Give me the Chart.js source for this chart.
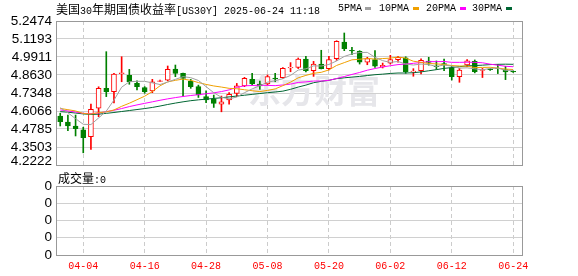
<!DOCTYPE html>
<html><head><meta charset="utf-8">
<script src="https://cdn.jsdelivr.net/npm/chart.js@4.4.1/dist/chart.umd.min.js"></script>
<style>
html,body{margin:0;padding:0;background:#fff;width:578px;height:276px;overflow:hidden;position:relative}
.t{position:absolute;white-space:nowrap;line-height:12px;height:12px;color:#000}
.c{font-family:'Noto Sans CJK SC';font-size:12px}
.a{font-family:'Liberation Mono';font-size:10px}
#main{position:absolute;left:0;top:0}
#vol{position:absolute;left:0;top:170px}
.sw{position:absolute;width:6px;height:3px;top:7px}
</style></head><body>
<canvas id="main" width="578" height="195"></canvas>
<canvas id="vol" width="578" height="106"></canvas>
<div class="t" style="left:56px;top:3px"><span class="c">美国</span><span class="a">30</span><span class="c">年期国债收益率</span><span class="a">[US30Y] 2025-06-24 11:18</span></div>
<div class="t a" style="left:338px;top:3px">5PMA</div><div class="sw" style="left:365px;background:#a0a0a0"></div>
<div class="t a" style="left:379px;top:3px">10PMA</div><div class="sw" style="left:413px;background:#f0a000"></div>
<div class="t a" style="left:426px;top:3px">20PMA</div><div class="sw" style="left:460px;background:#ff00ff"></div>
<div class="t a" style="left:472px;top:3px">30PMA</div><div class="sw" style="left:506px;background:#006633"></div>
<div class="t" style="left:58px;top:172px"><span class="c">成交量</span><span class="a">:0</span></div>
<script>
const dates = ['04-01','04-02','04-03','04-04','04-07','04-08','04-09','04-10','04-11','04-14','04-15','04-16','04-17','04-18','04-21','04-22','04-23','04-24','04-25','04-28','04-29','04-30','05-01','05-02','05-05','05-06','05-07','05-08','05-09','05-12','05-13','05-14','05-15','05-16','05-19','05-20','05-21','05-22','05-23','05-27','05-28','05-29','05-30','06-02','06-03','06-04','06-05','06-06','06-09','06-10','06-11','06-12','06-13','06-16','06-17','06-18','06-19','06-20','06-23','06-24'];
const xTickLabels = ['04-04','04-16','04-28','05-08','05-20','06-02','06-12','06-24'];
const yTickValues = [4.2222,4.3503,4.4785,4.6066,4.7348,4.8630,4.9911,5.1193,5.2474];
const yTickLabels = ['4.2222','4.3503','4.4785','4.6066','4.7348','4.8630','4.9911','5.1193','5.2474'];
const volTickLabels = ['0','0','0','0','0'];

const opens  = [4.571,4.527,4.500,4.472,4.424,4.626,4.768,4.744,4.873,4.861,4.804,4.773,4.749,4.818,4.827,4.905,4.875,4.820,4.780,4.709,4.691,4.656,4.685,4.732,4.786,4.832,4.799,4.799,4.841,4.844,4.913,4.917,4.977,4.893,4.941,4.908,4.979,5.098,5.038,5.031,4.955,4.972,4.920,4.948,4.972,4.986,4.886,4.893,4.962,4.927,4.944,4.914,4.851,4.934,4.960,4.896,4.905,4.913,4.901,4.889];
const highs  = [4.591,4.578,4.578,4.491,4.656,4.779,5.029,4.875,4.993,4.903,4.822,4.780,4.832,4.826,4.927,4.934,4.877,4.832,4.791,4.751,4.720,4.713,4.737,4.803,4.846,4.875,4.820,4.863,4.875,4.915,4.951,4.984,4.996,4.960,5.039,4.996,5.107,5.162,5.060,5.036,4.989,5.036,4.948,5.003,4.996,4.993,4.908,4.978,4.989,4.963,4.976,4.925,4.910,4.973,4.970,4.910,4.910,4.939,4.925,4.892];
const lows   = [4.500,4.467,4.429,4.309,4.334,4.566,4.709,4.665,4.815,4.797,4.757,4.733,4.737,4.815,4.822,4.851,4.713,4.768,4.703,4.666,4.632,4.601,4.656,4.709,4.780,4.791,4.761,4.791,4.815,4.839,4.886,4.909,4.884,4.853,4.906,4.900,4.967,5.036,5.007,4.941,4.936,4.917,4.913,4.941,4.955,4.875,4.854,4.871,4.933,4.903,4.894,4.827,4.811,4.923,4.878,4.845,4.895,4.873,4.830,4.881];
const closes = [4.531,4.500,4.481,4.417,4.619,4.768,4.744,4.870,4.879,4.815,4.780,4.744,4.815,4.822,4.903,4.875,4.839,4.780,4.721,4.685,4.661,4.672,4.725,4.786,4.839,4.799,4.786,4.851,4.837,4.910,4.917,4.977,4.893,4.941,4.908,4.972,5.103,5.050,5.034,4.955,4.979,4.925,4.932,4.972,4.989,4.886,4.891,4.967,4.953,4.922,4.938,4.851,4.898,4.963,4.886,4.901,4.901,4.909,4.884,4.884];
const volumes = [0,0,0,0,0,0,0,0,0,0,0,0,0,0,0,0,0,0,0,0,0,0,0,0,0,0,0,0,0,0,0,0,0,0,0,0,0,0,0,0,0,0,0,0,0,0,0,0,0,0,0,0,0,0,0,0,0,0,0,0];

const ma5  = [4.630,4.594,4.552,4.512,4.510,4.557,4.606,4.684,4.776,4.815,4.818,4.818,4.807,4.795,4.813,4.832,4.851,4.844,4.824,4.780,4.737,4.704,4.693,4.706,4.737,4.764,4.787,4.812,4.822,4.837,4.860,4.898,4.907,4.928,4.927,4.938,4.963,4.995,5.013,5.023,5.024,4.989,4.965,4.953,4.959,4.941,4.934,4.941,4.937,4.924,4.934,4.926,4.912,4.914,4.907,4.900,4.910,4.912,4.896,4.896];
const ma10 = [4.625,4.616,4.607,4.589,4.585,4.595,4.600,4.614,4.640,4.662,4.687,4.712,4.745,4.786,4.814,4.825,4.834,4.825,4.809,4.796,4.785,4.777,4.768,4.765,4.758,4.751,4.745,4.753,4.764,4.787,4.812,4.843,4.860,4.875,4.882,4.899,4.931,4.951,4.971,4.975,4.981,4.976,4.980,4.983,4.991,4.983,4.961,4.953,4.945,4.942,4.938,4.930,4.927,4.926,4.916,4.917,4.918,4.912,4.905,4.902];
const ma20 = [4.614,4.607,4.599,4.590,4.588,4.592,4.602,4.612,4.624,4.638,4.650,4.661,4.672,4.683,4.693,4.702,4.710,4.717,4.723,4.729,4.736,4.745,4.757,4.775,4.786,4.788,4.790,4.789,4.787,4.792,4.798,4.810,4.814,4.820,4.820,4.825,4.838,4.852,4.867,4.881,4.897,4.909,4.920,4.929,4.937,4.941,4.946,4.952,4.958,4.958,4.959,4.953,4.953,4.954,4.953,4.950,4.940,4.933,4.925,4.922];
const ma30 = [4.602,4.598,4.592,4.586,4.582,4.584,4.590,4.596,4.603,4.610,4.617,4.624,4.632,4.642,4.653,4.663,4.672,4.680,4.686,4.691,4.696,4.701,4.707,4.713,4.719,4.725,4.731,4.737,4.742,4.748,4.761,4.777,4.791,4.808,4.818,4.825,4.837,4.843,4.848,4.853,4.859,4.865,4.869,4.874,4.877,4.877,4.879,4.885,4.893,4.901,4.910,4.916,4.922,4.928,4.930,4.933,4.937,4.939,4.940,4.939];

const RED = '#ff0000', GREEN = '#008000';
const up = closes.map((c,i) => c >= opens[i]);
const tickIdx = xTickLabels.map(l => dates.indexOf(l));
const XMIN = -0.55, XMAX = 60.15;
const yFont = "'Liberation Sans', Arial, sans-serif";

const borderPlugin = {
  id: 'frame',
  afterDraw(chart) {
    const {ctx, chartArea: a} = chart;
    ctx.save();
    ctx.strokeStyle = '#999';
    ctx.lineWidth = 1;
    ctx.strokeRect(Math.round(a.left) + 0.5, Math.round(a.top) + 0.5, Math.round(a.right - a.left), Math.round(a.bottom - a.top));
    ctx.restore();
  }
};
const watermark = {
  id: 'wm',
  beforeDatasetsDraw(chart) {
    const ctx = chart.ctx;
    ctx.save();
    ctx.fillStyle = '#e6e6ea';
    ctx.font = "bold 33px 'Noto Sans CJK SC'";
    ctx.textBaseline = 'top';
    ctx.fillText('东方财富', 248, 74);
    ctx.restore();
  }
};

const xScaleBase = (showLabels) => ({
  type: 'linear', min: XMIN, max: XMAX, offset: false,
  afterBuildTicks: s => { s.ticks = tickIdx.map(v => ({value: v})); },
  ticks: {
    display: showLabels, autoSkip: false, maxRotation: 0, padding: 5,
    color: RED, font: {family: "'Liberation Mono'", size: 10},
    callback: v => dates[v]
  },
  grid: {color: '#cccccc', drawTicks: false, lineWidth: 1, offset: false},
  border: {display: false, dash: [4, 3]},
  afterFit: s => { s.height = showLabels ? 20 : 0; }
});

new Chart(document.getElementById('main'), {
  type: 'bar',
  data: {
    datasets: [
      {type: 'line', data: ma5.map((v,i) => ({x: i, y: v})), borderColor: '#a0a0a0', borderWidth: 1, pointRadius: 0, order: 0},
      {type: 'line', data: ma10.map((v,i) => ({x: i, y: v})), borderColor: '#f0a000', borderWidth: 1, pointRadius: 0, order: 0},
      {type: 'line', data: ma20.map((v,i) => ({x: i, y: v})), borderColor: '#ff00ff', borderWidth: 1, pointRadius: 0, order: 0},
      {type: 'line', data: ma30.map((v,i) => ({x: i, y: v})), borderColor: '#006633', borderWidth: 1, pointRadius: 0, order: 0},
      {data: opens.map((o,i) => ({x: i, y: [o, closes[i]]})),
       backgroundColor: up.map(u => u ? '#ffffff' : GREEN), borderColor: up.map(u => u ? RED : GREEN),
       borderWidth: 1, borderSkipped: false, barThickness: 5, grouped: false, order: 1},
      {data: lows.map((l,i) => ({x: i, y: [l, highs[i]]})),
       backgroundColor: up.map(u => u ? RED : GREEN), borderWidth: 0, barThickness: 1, grouped: false, order: 2}
    ]
  },
  options: {
    responsive: false, animation: false, events: [],
    layout: {padding: {top: 21, right: 56, bottom: 30, left: 0}},
    plugins: {legend: {display: false}, tooltip: {enabled: false}},
    scales: {
      x: xScaleBase(false),
      y: {
        min: 4.2222, max: 5.2474,
        afterBuildTicks: s => { s.ticks = yTickValues.map(v => ({value: v})); },
        ticks: {
          padding: 4, color: '#000', autoSkip: false,
          font: ctx => ({family: yFont, size: 13.5, lineHeight: ctx.index === 0 ? 0.6 : 1.2}),
          callback: (v, i) => i === 0 ? [yTickLabels[i], ''] : yTickLabels[i]
        },
        grid: {color: '#d0d0d0', drawTicks: false},
        border: {display: false},
        afterFit: s => { s.width = 56; }
      }
    }
  },
  plugins: [watermark, borderPlugin]
});

new Chart(document.getElementById('vol'), {
  type: 'bar',
  data: {datasets: [{data: volumes.map((v,i) => ({x: i, y: v})), backgroundColor: 'rgba(0,0,0,0)', borderWidth: 0, barThickness: 5}]},
  options: {
    responsive: false, animation: false, events: [],
    layout: {padding: {top: 16, right: 56, bottom: 1, left: 0}},
    plugins: {legend: {display: false}, tooltip: {enabled: false}},
    scales: {
      x: xScaleBase(true),
      y: {
        min: 0, max: 4,
        afterBuildTicks: s => { s.ticks = [0,1,2,3,4].map(v => ({value: v})); },
        ticks: {padding: 4, color: '#000', autoSkip: false, font: {family: yFont, size: 13.5}, callback: (v, i) => volTickLabels[i]},
        grid: {color: '#d0d0d0', drawTicks: false},
        border: {display: false},
        afterFit: s => { s.width = 56; }
      }
    }
  },
  plugins: [borderPlugin]
});
</script>
</body></html>
